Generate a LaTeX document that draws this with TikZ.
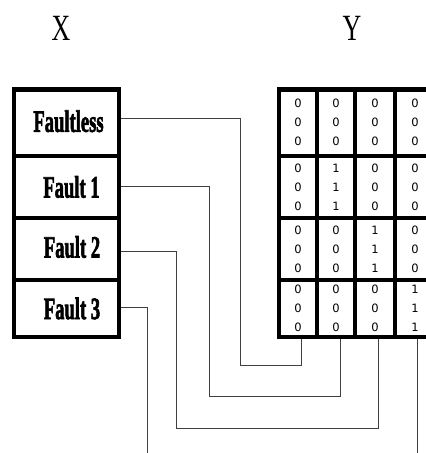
\documentclass[tikz,border=0pt]{standalone}
\usepackage{graphicx}
\usepackage{fontspec}
\setmainfont{Liberation Serif}
\newfontfamily\digitfont{DejaVu Sans}
\newfontfamily\heavyfont[FakeBold=2.5]{Liberation Serif Bold}
\begin{document}
\begin{tikzpicture}[x=1pt,y=-1pt,
  cellbox/.style={draw, line width=4.5pt, inner sep=0pt},
  celltext/.style={font=\fontsize{31}{34}\heavyfont, inner sep=0pt},
  titletext/.style={font=\fontsize{37}{40}\selectfont, inner sep=0pt},
  mcell/.style={draw, line width=4.5pt, inner sep=0pt, align=center,
    font=\digitfont\fontsize{11.5}{19}\selectfont},
  conn/.style={draw=black!75, line width=0.9pt}]
\clip (0,0) rectangle (426,453);
% titles
\node[titletext] (X) at (61,28) {\scalebox{0.7}[1]{X}};
\node[titletext] (Y) at (352,28) {\scalebox{0.7}[1]{Y}};
% left column of states
\node[cellbox, minimum width=105pt, minimum height=66.5pt] (f0) at (66.5,122.75) {};
\node[cellbox, minimum width=105pt, minimum height=62pt] (f1) at (66.5,187) {};
\node[cellbox, minimum width=105pt, minimum height=62pt] (f2) at (66.5,249) {};
\node[cellbox, minimum width=105pt, minimum height=57pt] (f3) at (66.5,308.5) {};
\node[celltext] (t0) at ([xshift=2pt,yshift=1.5pt]f0.center) {\scalebox{0.6}[1]{Faultless}};
\node[celltext] (t1) at ([xshift=5pt]f1.center) {\scalebox{0.6}[1]{Fault 1}};
\node[celltext] (t2) at ([xshift=5.5pt,yshift=2pt]f2.center) {\scalebox{0.6}[1]{Fault 2}};
\node[celltext] (t3) at ([xshift=5.5pt]f3.center) {\scalebox{0.6}[1]{Fault 3}};
% matrix
\node[mcell, minimum width=38pt, minimum height=66.5pt] (m11) at (298,122.75) {0\\0\\0};
\node[mcell, minimum width=38pt, minimum height=66.5pt] (m12) at (336,122.75) {0\\0\\0};
\node[mcell, minimum width=40pt, minimum height=66.5pt] (m13) at (375,122.75) {0\\0\\0};
\node[mcell, minimum width=40pt, minimum height=66.5pt] (m14) at (415,122.75) {0\\0\\0};
\node[mcell, minimum width=38pt, minimum height=62pt] (m21) at (298,187) {0\\0\\0};
\node[mcell, minimum width=38pt, minimum height=62pt] (m22) at (336,187) {1\\1\\1};
\node[mcell, minimum width=40pt, minimum height=62pt] (m23) at (375,187) {0\\0\\0};
\node[mcell, minimum width=40pt, minimum height=62pt] (m24) at (415,187) {0\\0\\0};
\node[mcell, minimum width=38pt, minimum height=62pt] (m31) at (298,249) {0\\0\\0};
\node[mcell, minimum width=38pt, minimum height=62pt] (m32) at (336,249) {0\\0\\0};
\node[mcell, minimum width=40pt, minimum height=62pt] (m33) at (375,249) {1\\1\\1};
\node[mcell, minimum width=40pt, minimum height=62pt] (m34) at (415,249) {0\\0\\0};
\node[mcell, minimum width=38pt, minimum height=57pt] (m41) at (298,308.5) {0\\0\\0};
\node[mcell, minimum width=38pt, minimum height=57pt] (m42) at (336,308.5) {0\\0\\0};
\node[mcell, minimum width=40pt, minimum height=57pt] (m43) at (375,308.5) {0\\0\\0};
\node[mcell, minimum width=40pt, minimum height=57pt] (m44) at (415,308.5) {1\\1\\1};
% attachment points
\coordinate (b1) at ([xshift=3pt]m41.south);
\coordinate (b2) at ([xshift=4pt]m42.south);
\coordinate (b3) at ([xshift=3pt]m43.south);
\coordinate (b4) at ([xshift=2pt]m44.south);
\coordinate (e3) at (147,460);
\coordinate (e4) at (417,460);
% connectors
\draw[conn] ([yshift=4.75pt]f0.east) -| (240,365) -| (b1);
\draw[conn] ([yshift=1pt]f1.east) -| (209,396) -| (b2);
\draw[conn] ([yshift=-2pt]f2.east) -| (176,428) -| (b3);
\draw[conn] ([yshift=1.5pt]f3.east) -| (e3);
\draw[conn] (b4) -- (e4);
\end{tikzpicture}
\end{document}
